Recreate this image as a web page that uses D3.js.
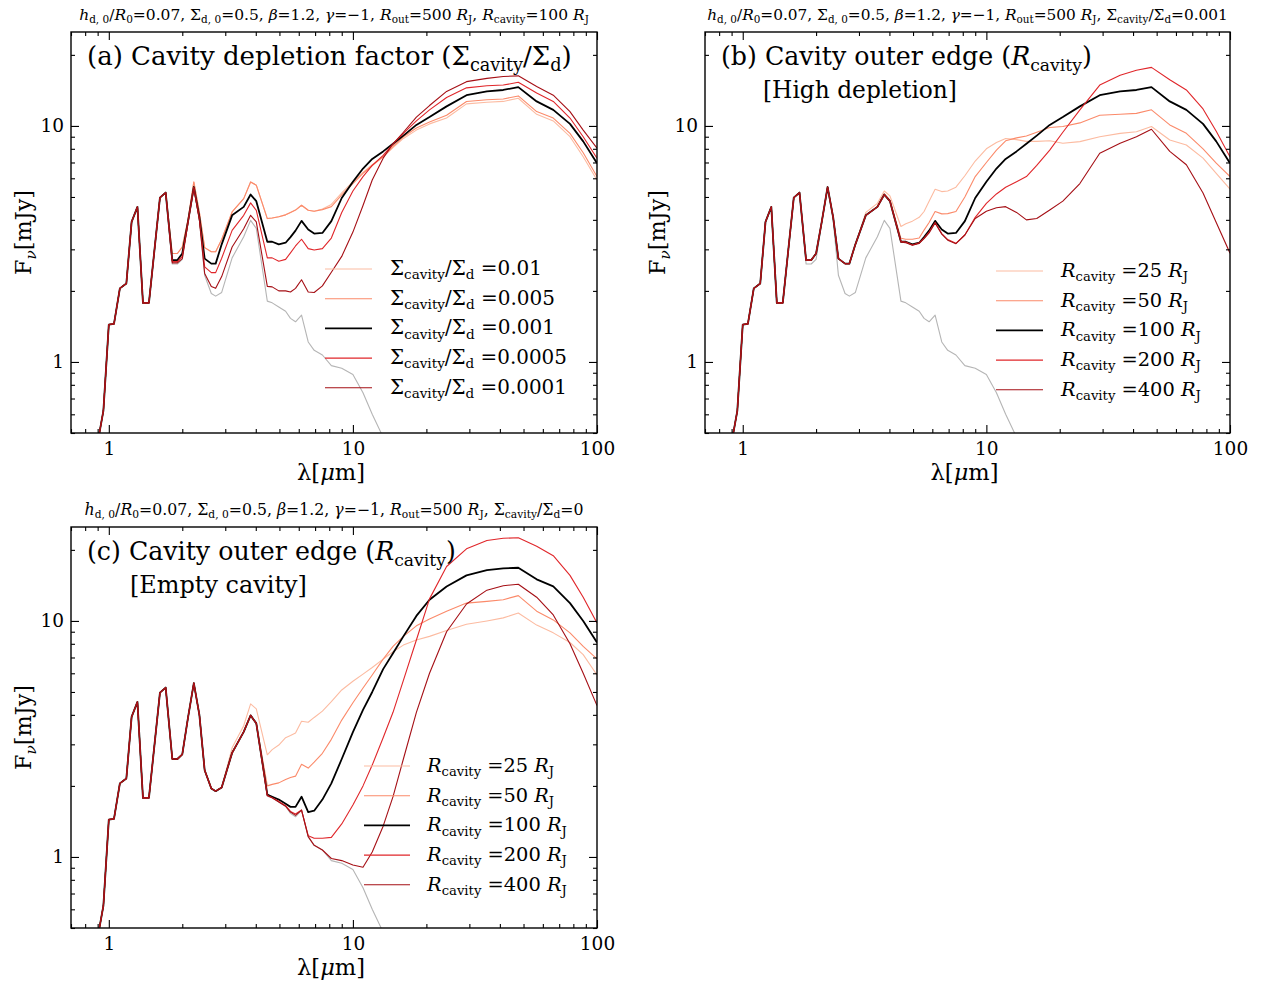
<!DOCTYPE html>
<html><head><meta charset="utf-8">
<script src="https://cdn.jsdelivr.net/npm/d3@7"></script>
<style>
body{margin:0;background:#fff}
svg{display:block}
text{font-family:"DejaVu Serif",serif;fill:#000}
</style>
</head><body>
<svg id="chart" width="1263" height="981"></svg>
<script>
// ---------------- data ----------------
const wavelengths = [0.88,0.95,1.0,1.05,1.11,1.18,1.24,1.31,1.38,1.46,1.62,1.71,1.82,1.91,2.0,2.11,2.23,2.35,2.47,2.63,2.74,2.9,3.2,3.57,3.81,4.02,4.46,4.67,4.97,5.3,5.55,5.82,6.16,6.56,6.94,7.5,8.16,9.0,10,11,12,13.3,14.6,16.1,18.2,20.6,24.2,29.2,35.4,41.3,47.6,56.6,66.2,77.5,87.8,100];
const stellarNIR = [0.40,0.62,1.44,1.45,2.05,2.15,3.92,4.54,1.78,1.78,4.97,5.22];
const noDisk = [...stellarNIR,2.60,2.60,2.72,3.88,5.45,4.0,2.33,1.95,1.90,1.97,2.76,3.39,3.98,3.68,1.81,1.78,1.71,1.64,1.53,1.48,1.58,1.215,1.12,1.07,0.965,0.94,0.885,0.74,0.60,0.48,null,null,null,null,null,null,null,null,null,null,null,null,null,null];

// panel (a): depletion factor
const depletionLabels = ["0.01","0.005","0.001","0.0005","0.0001"];
const sedA_0p01   = [...stellarNIR,2.88,2.88,3.07,4.0,5.79,4.3,3.05,2.93,2.93,3.3,4.32,4.92,5.79,5.61,4.05,4.07,4.12,4.2,4.3,4.4,4.61,4.39,4.35,4.45,4.65,5.2,5.8,6.35,6.85,7.4,8.1,8.85,9.6,10.2,10.8,12.4,12.6,12.7,13.1,11.2,10.5,9.0,7.4,5.9];
const sedA_0p005  = [...stellarNIR,2.88,2.88,3.07,4.0,5.79,4.3,3.05,2.93,2.93,3.3,4.32,4.92,5.79,5.61,4.05,4.07,4.12,4.2,4.3,4.4,4.61,4.39,4.35,4.42,4.55,5.1,5.7,6.3,6.8,7.4,8.2,9.0,9.8,10.4,11.1,12.7,12.9,13.0,13.4,11.5,10.8,9.3,7.7,6.1];
const sedA_0p001  = [...stellarNIR,2.70,2.70,2.88,3.92,5.51,4.11,2.74,2.61,2.61,3.15,4.18,4.54,5.12,4.80,3.23,3.23,3.15,3.2,3.38,3.6,3.96,3.64,3.5,3.52,3.95,4.95,5.8,6.6,7.25,7.8,8.4,9.1,10.1,10.9,12.1,13.5,14.0,14.2,14.6,12.7,11.7,10.2,8.6,6.95];
const sedA_0p0005 = [...stellarNIR,2.66,2.66,2.80,3.9,5.5,4.05,2.53,2.39,2.39,2.75,3.61,4.18,4.72,4.39,2.76,2.76,2.67,2.72,2.9,3.1,3.31,3.02,2.98,3.02,3.35,4.3,5.3,6.1,6.8,7.5,8.4,9.3,10.5,11.7,13.2,14.5,14.8,14.9,15.3,13.8,12.7,10.8,9.0,7.3];
const sedA_0p0001 = [...stellarNIR,2.63,2.63,2.74,3.88,5.45,4.0,2.37,2.09,2.05,2.3,3.07,3.67,4.18,3.92,2.09,2.08,2.0,2.0,1.98,2.05,2.23,1.98,1.97,2.10,2.4,2.8,3.55,4.6,5.9,7.3,8.4,9.4,10.9,12.2,14.0,15.4,15.9,16.2,16.3,14.7,13.5,11.5,9.6,8.05];

// panel (b): cavity outer edge, high depletion
const cavityLabels = ["25","50","100","200","400"];
const sedB_25  = [...stellarNIR,2.70,2.70,2.88,3.92,5.51,4.11,2.74,2.61,2.61,3.15,4.3,4.7,5.3,5.05,3.75,3.85,3.95,4.1,4.34,4.8,5.39,5.27,5.3,5.5,6.15,7.1,8.0,8.5,8.85,8.75,8.6,8.6,8.65,8.45,8.58,9.0,9.3,9.45,9.94,8.72,8.3,7.3,6.3,5.4];
const sedB_50  = [...stellarNIR,2.70,2.70,2.88,3.92,5.51,4.11,2.74,2.61,2.61,3.15,4.18,4.54,5.15,4.85,3.34,3.31,3.31,3.35,3.62,3.9,4.34,4.24,4.25,4.34,5.0,6.1,7.0,7.9,8.65,8.9,9.07,9.4,9.85,9.94,10.3,11.1,11.2,11.3,11.7,10.1,9.3,8.0,6.95,6.1];
const sedB_100 = [...stellarNIR,2.70,2.70,2.88,3.92,5.51,4.11,2.74,2.61,2.61,3.15,4.18,4.54,5.12,4.80,3.23,3.23,3.15,3.2,3.38,3.6,3.96,3.64,3.5,3.52,3.95,4.95,5.8,6.6,7.25,7.8,8.4,9.1,10.1,10.9,12.1,13.5,14.0,14.2,14.6,12.7,11.7,10.2,8.6,6.95];
const sedB_200 = [...stellarNIR,2.70,2.70,2.88,3.92,5.51,4.11,2.74,2.61,2.61,3.15,4.18,4.54,5.12,4.80,3.24,3.22,3.13,3.2,3.35,3.55,3.9,3.5,3.3,3.18,3.45,4.1,4.7,5.15,5.5,5.8,6.1,6.8,7.9,9.4,11.7,14.9,16.4,17.2,17.7,15.7,14.2,11.8,9.5,7.4];
const sedB_400 = [...stellarNIR,2.70,2.70,2.88,3.92,5.51,4.11,2.74,2.61,2.61,3.15,4.18,4.54,5.12,4.80,3.22,3.2,3.12,3.18,3.33,3.52,3.88,3.48,3.28,3.17,3.45,4.05,4.35,4.5,4.55,4.3,4.0,4.05,4.4,4.8,5.7,7.66,8.45,9.0,9.68,7.8,6.85,5.2,3.9,2.89];

// panel (c): cavity outer edge, empty cavity
const sedC_25  = [...stellarNIR,2.60,2.60,2.72,3.88,5.45,4.0,2.33,1.95,1.90,1.97,2.9,3.6,4.45,4.24,2.71,2.85,2.98,3.2,3.27,3.35,3.76,3.72,3.9,4.15,4.55,5.1,5.55,5.95,6.35,6.89,7.4,7.9,8.3,8.6,9.1,9.68,10.0,10.3,10.8,9.6,8.9,8.1,7.2,5.9];
const sedC_50  = [...stellarNIR,2.60,2.60,2.72,3.88,5.45,4.0,2.33,1.95,1.90,1.97,2.76,3.39,3.98,3.68,2.0,2.03,2.06,2.13,2.17,2.2,2.47,2.38,2.52,2.75,3.15,3.8,4.5,5.2,5.9,6.89,7.8,8.6,9.53,10.2,11.0,11.9,12.1,12.3,12.8,11.0,10.1,8.9,7.8,6.9];
const sedC_100 = [...stellarNIR,2.60,2.60,2.72,3.88,5.45,4.0,2.33,1.95,1.90,1.97,2.76,3.39,3.98,3.68,1.84,1.80,1.75,1.68,1.63,1.63,1.80,1.55,1.57,1.75,2.05,2.6,3.38,4.2,5.0,6.25,7.3,8.6,10.5,12.3,14.0,15.6,16.4,16.7,16.8,15.0,14.0,11.9,10.0,8.1];
const sedC_200 = [...stellarNIR,2.60,2.60,2.72,3.88,5.45,4.0,2.33,1.95,1.90,1.97,2.76,3.39,3.98,3.68,1.82,1.78,1.72,1.65,1.56,1.52,1.58,1.23,1.20,1.20,1.21,1.38,1.66,2.0,2.45,3.2,4.1,5.6,8.3,12.4,17.0,20.2,21.9,22.4,22.5,20.7,18.9,15.6,12.6,9.8];
const sedC_400 = [...stellarNIR,2.60,2.60,2.72,3.88,5.45,4.0,2.33,1.95,1.90,1.97,2.76,3.39,3.98,3.68,1.82,1.78,1.71,1.64,1.55,1.5,1.58,1.22,1.12,1.07,0.985,0.965,0.925,0.905,1.05,1.35,1.8,2.6,4.1,6.0,9.0,11.8,13.5,14.1,14.3,12.6,10.6,8.0,6.0,4.38];

const xTickValues = [1, 10, 100];
const xTickLabels = ["1", "10", "100"];
const yTickValues = [1, 10];
const yTickLabels = ["1", "10"];
const xMinorTicks = [0.7,0.8,0.9,2,3,4,5,6,7,8,9,20,30,40,50,60,70,80,90];
const yMinorTicks = [0.5,0.6,0.7,0.8,0.9,2,3,4,5,6,7,8,9,20];

// ---------------- styles ----------------
const palette = ["#fcbba1", "#fb8a6a", "#000000", "#e0262a", "#a50f15"];
const widths  = [1.1, 1.1, 1.8, 1.1, 1.1];
const grayColor = "#b5b5b5";

// ---------------- helpers ----------------
const svg = d3.select("#chart");

// mini-markup: *italic*, _{subscript}, _{*x*} italic subscript
function parseMarkup(str) {
  const parts = [];
  let italic = false, i = 0, buf = "";
  const flush = () => { if (buf.length) { parts.push({t: buf, i: italic, s: false}); buf = ""; } };
  while (i < str.length) {
    const c = str[i];
    if (c === "*") { flush(); italic = !italic; i++; continue; }
    if (c === "_" && str[i+1] === "{") {
      flush();
      const end = str.indexOf("}", i);
      let sub = str.slice(i+2, end), subIt = false;
      if (sub.startsWith("*") && sub.endsWith("*")) { sub = sub.slice(1, -1); subIt = true; }
      parts.push({t: sub, i: subIt, s: true});
      i = end + 1; continue;
    }
    buf += c; i++;
  }
  flush();
  return parts;
}
function rich(parent, str, size, x, y, anchor) {
  const t = parent.append("text").attr("x", x).attr("y", y)
    .attr("font-size", size).attr("text-anchor", anchor || "start");
  const parts = parseMarkup(str);
  let inSub = false;
  const shift = size * 0.22;
  parts.forEach(p => {
    const ts = t.append("tspan").text(p.t);
    if (p.i) ts.attr("font-style", "italic");
    if (p.s) {
      ts.attr("font-size", size * 0.68);
      if (!inSub) ts.attr("dy", shift);
      inSub = true;
    } else {
      if (inSub) ts.attr("dy", -shift);
      inSub = false;
    }
  });
  return t;
}
function fitRich(parent, str, targetW, x, y, anchor) {
  let t = rich(parent, str, 20, x, y, anchor);
  const w = t.node().getComputedTextLength();
  t.remove();
  return rich(parent, str, 20 * targetW / w, x, y, anchor);
}

const commonParams = "*h*_{d, 0}/*R*_{0}=0.07, Σ_{d, 0}=0.5, *β*=1.2, *γ*=−1, *R*_{out}=500 *R*_{J}, ";

const panels = [
  {
    clip: "clipA", left: 71, right: 597, top: 32, bottom: 433,
    header: commonParams + "*R*_{cavity}=100 *R*_{J}", headerW: 510,
    label: "(a) Cavity depletion factor (Σ_{cavity}/Σ_{d})", labelW: 485, sublabel: null,
    series: [sedA_0p01, sedA_0p005, sedA_0p001, sedA_0p0005, sedA_0p0001],
    legend: depletionLabels.map(v => "Σ_{cavity}/Σ_{d} =" + v), legendW: [152, 165, 165, 177, 177],
    legX: [325, 372], legText: 390, legY: 269
  },
  {
    clip: "clipB", left: 705, right: 1230, top: 32, bottom: 433,
    header: commonParams + "Σ_{cavity}/Σ_{d}=0.001", headerW: 521,
    label: "(b) Cavity outer edge (*R*_{cavity})", labelW: 371,
    sublabel: "[High depletion]", sublabelW: 194, subX: 763, subY: 98,
    series: [sedB_25, sedB_50, sedB_100, sedB_200, sedB_400],
    legend: cavityLabels.map(v => "*R*_{cavity} =" + v + " *R*_{J}"), legendW: [127, 127, 140, 140, 140],
    legX: [996, 1043], legText: 1061, legY: 271
  },
  {
    clip: "clipC", left: 71, right: 597, top: 527, bottom: 928,
    header: commonParams + "Σ_{cavity}/Σ_{d}=0", headerW: 499,
    label: "(c) Cavity outer edge (*R*_{cavity})", labelW: 369,
    sublabel: "[Empty cavity]", sublabelW: 177, subX: 130, subY: 593,
    series: [sedC_25, sedC_50, sedC_100, sedC_200, sedC_400],
    legend: cavityLabels.map(v => "*R*_{cavity} =" + v + " *R*_{J}"), legendW: [127, 127, 140, 140, 140],
    legX: [364, 410], legText: 427, legY: 766
  }
];

panels.forEach(p => {
  const x = d3.scaleLog().domain([0.7, 100]).range([p.left, p.right]);
  const y = d3.scaleLog().domain([0.5, 25]).range([p.bottom, p.top]);
  const g = svg.append("g");

  svg.append("defs").append("clipPath").attr("id", p.clip)
    .append("rect").attr("x", p.left).attr("y", p.top)
    .attr("width", p.right - p.left).attr("height", p.bottom - p.top);

  const line = d3.line()
    .defined(d => d[1] != null)
    .x(d => x(d[0])).y(d => y(d[1]));

  const plot = g.append("g").attr("clip-path", `url(#${p.clip})`);
  plot.append("path")
    .attr("d", line(wavelengths.map((w, i) => [w, noDisk[i]])))
    .attr("fill", "none").attr("stroke", grayColor).attr("stroke-width", 1.1)
    .attr("stroke-linejoin", "round");
  p.series.forEach((s, k) => {
    plot.append("path")
      .attr("d", line(wavelengths.map((w, i) => [w, s[i]])))
      .attr("fill", "none").attr("stroke", palette[k]).attr("stroke-width", widths[k])
      .attr("stroke-linejoin", "round");
  });

  // axes (inward ticks on all sides)
  const styleAxis = a => {
    a.select(".domain").remove();
    a.selectAll("line").attr("stroke", "#000").attr("stroke-width", 1.1);
    a.selectAll("text").attr("font-family", "DejaVu Serif").attr("font-size", 18.5).attr("fill", "#000");
  };
  g.append("g").attr("transform", `translate(0,${p.bottom})`)
    .call(d3.axisBottom(x).tickValues(xTickValues).tickSize(-8).tickPadding(9)
      .tickFormat((d, i) => xTickLabels[i])).call(styleAxis);
  g.append("g").attr("transform", `translate(0,${p.bottom})`)
    .call(d3.axisBottom(x).tickValues(xMinorTicks).tickSize(-4).tickFormat("")).call(styleAxis);
  g.append("g").attr("transform", `translate(0,${p.top})`)
    .call(d3.axisTop(x).tickValues(xTickValues).tickSize(-8).tickFormat("")).call(styleAxis);
  g.append("g").attr("transform", `translate(0,${p.top})`)
    .call(d3.axisTop(x).tickValues(xMinorTicks).tickSize(-4).tickFormat("")).call(styleAxis);
  g.append("g").attr("transform", `translate(${p.left},0)`)
    .call(d3.axisLeft(y).tickValues(yTickValues).tickSize(-8).tickPadding(7)
      .tickFormat((d, i) => yTickLabels[i])).call(styleAxis);
  g.append("g").attr("transform", `translate(${p.left},0)`)
    .call(d3.axisLeft(y).tickValues(yMinorTicks).tickSize(-4).tickFormat("")).call(styleAxis);
  g.append("g").attr("transform", `translate(${p.right},0)`)
    .call(d3.axisRight(y).tickValues(yTickValues).tickSize(-8).tickFormat("")).call(styleAxis);
  g.append("g").attr("transform", `translate(${p.right},0)`)
    .call(d3.axisRight(y).tickValues(yMinorTicks).tickSize(-4).tickFormat("")).call(styleAxis);

  g.append("rect").attr("x", p.left).attr("y", p.top)
    .attr("width", p.right - p.left).attr("height", p.bottom - p.top)
    .attr("fill", "none").attr("stroke", "#000").attr("stroke-width", 1.4);

  // axis titles
  const cx = (p.left + p.right) / 2;
  fitRich(g, "λ[*μ*m]", 68, cx - 3, p.bottom + 47, "middle");
  const cy = (p.top + p.bottom) / 2;
  const yl = fitRich(g, "F_{*ν*}[mJy]", 85, 0, 0, "middle");
  yl.attr("transform", `translate(${p.left - 40},${cy}) rotate(-90)`);

  // header above panel
  fitRich(g, p.header, p.headerW, cx, p.top - 12, "middle");
  // panel label
  fitRich(g, p.label, p.labelW, p.left + 16, p.top + 33, "start");
  if (p.sublabel) fitRich(g, p.sublabel, p.sublabelW, p.subX, p.subY, "start");

  // legend
  p.legend.forEach((lab, k) => {
    const ly = p.legY + k * 29.7;
    g.append("line").attr("x1", p.legX[0]).attr("x2", p.legX[1])
      .attr("y1", ly).attr("y2", ly)
      .attr("stroke", palette[k]).attr("stroke-width", widths[k]);
    fitRich(g, lab, p.legendW[k], p.legText, ly + 6, "start");
  });
});
</script>
</body></html>
